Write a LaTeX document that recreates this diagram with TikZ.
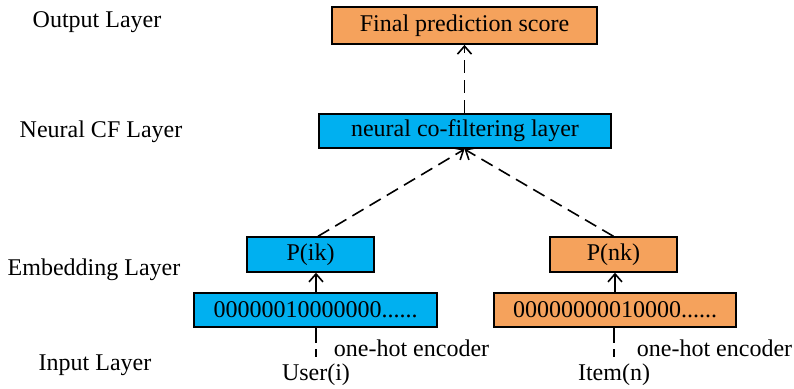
\documentclass[tikz,border=0pt]{standalone}
\usepackage{fontspec}
\setmainfont{Liberation Serif}
\usetikzlibrary{arrows.meta,calc}
\definecolor{boxblue}{RGB}{0,176,240}
\definecolor{boxorange}{RGB}{245,162,92}
\begin{document}
\begin{tikzpicture}[x=0.5pt,y=-0.5pt,
  every node/.style={font=\fontsize{12}{14}\selectfont},
  layerbox/.style={draw=black,line width=0.9pt,inner sep=0pt,minimum height=17.3pt},
  bluebox/.style={layerbox,fill=boxblue},
  orangebox/.style={layerbox,fill=boxorange},
  tag/.style={inner sep=1pt},
  link/.style={line width=0.8pt,-{Straight Barb[length=4pt,width=7pt]}},
  dashlink/.style={link,dash pattern=on 6.5pt off 3.5pt},
  feed/.style={line width=0.8pt,dash pattern=on 7.5pt off 3pt}]
\useasboundingbox (0,0) rectangle (794,388);

% layer captions
\node[tag] (lout) at (97,22) {Output Layer};
\node[tag] (lncf) at (101,132) {Neural CF Layer};
\node[tag] (lemb) at (94,270) {Embedding Layer};
\node[tag] (linp) at (95,365) {Input Layer};

% boxes
\node[orangebox,minimum width=132.5pt,minimum height=18.5pt] (final) at (464.5,25.5) {Final prediction score};
\node[bluebox,minimum width=146pt] (ncf) at (465,131) {neural co-filtering layer};
\node[bluebox,minimum width=63.5pt] (pik) at (310.5,254.5) {P(ik)};
\node[orangebox,minimum width=63.5pt] (pnk) at (613.5,254.5) {P(nk)};
\node[bluebox,minimum width=121.5pt] (codel) at (315.5,310) {00000010000000......};
\node[orangebox,minimum width=121pt] (coder) at (615,310) {00000000010000......};

% inputs
\node[tag,anchor=north] (user) at (316,361) {User(i)};
\node[tag,anchor=north] (item) at (614,361) {Item(n)};
\node[tag] (encl) at (411.5,348) {one-hot encoder};
\node[tag] (encr) at (714.5,348) {one-hot encoder};

% connectors
\coordinate (ncfin) at (ncf.south -| final.south);
\draw[dashlink] (ncf.north -| final.south) -- (final.south);
\draw[dashlink] ($(pik.north)+(7.5,0)$) -- (ncfin);
\draw[dashlink] (pnk.north) -- (ncfin);
\draw[link] ($(codel.north)+(0.5,0)$) -- ($(pik.south -| codel.north)+(0.5,0)$);
\draw[link] (coder.north) -- (pnk.south -| coder.north);
\draw[feed] ($(codel.south)+(0.5,0)$) -- ($(user.north)+(0,-4)$);
\draw[feed] ($(coder.south)+(-1,0)$) -- ($(item.north)+(0,-4)$);
\end{tikzpicture}
\end{document}
